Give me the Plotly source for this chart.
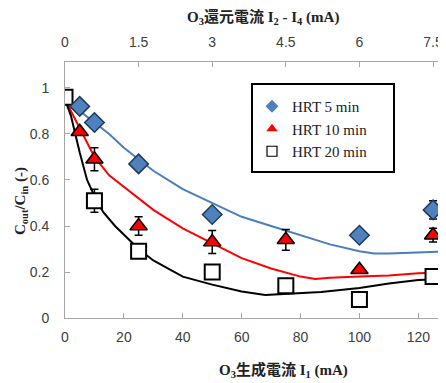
import plotly.graph_objects as go

# ---- data ----
x_hrt5 = [5, 10, 25, 50, 100, 125]
y_hrt5 = [0.92, 0.85, 0.67, 0.45, 0.36, 0.47]
e_hrt5 = [0, 0, 0, 0, 0, 0.04]

x_hrt10 = [5, 10, 25, 50, 75, 100, 125]
y_hrt10 = [0.81, 0.69, 0.40, 0.33, 0.34, 0.21, 0.36]
e_hrt10 = [0, 0.05, 0.04, 0.05, 0.045, 0, 0.03]

x_hrt20 = [0, 10, 25, 50, 75, 100, 125]
y_hrt20 = [0.96, 0.51, 0.29, 0.20, 0.14, 0.08, 0.18]
e_hrt20 = [0, 0.05, 0, 0, 0, 0, 0]

fit_x5 = [0, 2, 5, 10, 15, 20, 25, 30, 40, 50, 60, 70, 80, 90, 100, 105, 110, 120, 130]
fit_y5 = [0.95, 0.93, 0.90, 0.85, 0.80, 0.74, 0.69, 0.64, 0.56, 0.50, 0.44, 0.40, 0.36, 0.32, 0.29, 0.28, 0.28, 0.285, 0.29]

fit_x10 = [0, 2, 5, 10, 15, 20, 25, 30, 40, 50, 60, 70, 80, 85, 90, 100, 110, 120, 130]
fit_y10 = [0.95, 0.90, 0.82, 0.70, 0.62, 0.57, 0.52, 0.47, 0.39, 0.325, 0.26, 0.215, 0.18, 0.17, 0.175, 0.18, 0.185, 0.195, 0.20]

fit_x20 = [0, 2, 5, 7.5, 10, 13, 17, 21, 25, 30, 40, 50, 60, 68, 75, 87, 100, 110, 120, 130]
fit_y20 = [0.95, 0.88, 0.72, 0.60, 0.53, 0.46, 0.40, 0.35, 0.30, 0.25, 0.18, 0.145, 0.115, 0.10, 0.105, 0.113, 0.13, 0.15, 0.165, 0.17]

x_ticks = [0, 20, 40, 60, 80, 100, 120]
y_ticks = [0, 0.2, 0.4, 0.6, 0.8, 1]
y_ticktext = ["0", "0.2", "0.4", "0.6", "0.8", "1"]
top_ticks = [0, 1.5, 3, 4.5, 6, 7.5]
top_ticktext = ["0", "1.5", "3", "4.5", "6", "7.5"]

BLUE = "#4F81BD"
LINE_BLUE = "#4A7EBB"
RED = "#FF0000"

X_MAX = 129.4
Y_MAX = 1.113

fig = go.Figure()

# fitted curves
fig.add_trace(go.Scatter(x=fit_x5, y=fit_y5, mode="lines", line=dict(color=LINE_BLUE, width=2), showlegend=False, hoverinfo="skip"))
fig.add_trace(go.Scatter(x=fit_x10, y=fit_y10, mode="lines", line=dict(color=RED, width=2), showlegend=False, hoverinfo="skip"))
fig.add_trace(go.Scatter(x=fit_x20, y=fit_y20, mode="lines", line=dict(color="black", width=2), showlegend=False, hoverinfo="skip"))

err = dict(type="data", symmetric=True, color="black", thickness=1.5, width=4)

m20 = dict(symbol="square", color="white", line=dict(color="black", width=2))
m10 = dict(symbol="triangle-up", color=RED, line=dict(color="black", width=1.5))
m5 = dict(symbol="diamond", color=BLUE, line=dict(color="#1F3A5F", width=1.5))

fig.add_trace(go.Scatter(x=x_hrt20, y=y_hrt20, mode="markers", showlegend=False,
                         marker=dict(size=15, **m20), error_y=dict(array=e_hrt20, **err)))
fig.add_trace(go.Scatter(x=x_hrt10, y=y_hrt10, mode="markers", showlegend=False,
                         marker=dict(size=15, **m10), error_y=dict(array=e_hrt10, **err)))
fig.add_trace(go.Scatter(x=x_hrt5, y=y_hrt5, mode="markers", showlegend=False,
                         marker=dict(size=15, **m5), error_y=dict(array=e_hrt5, **err)))

# legend entries (smaller symbols, as in the reference legend)
legend_names = ["HRT 5 min", "HRT 10 min", "HRT 20 min"]
legend_markers = [
    dict(symbol="diamond", color=BLUE, line=dict(color=BLUE, width=0)),
    dict(symbol="triangle-up", color=RED, line=dict(color=RED, width=0)),
    dict(symbol="square-open", color="black", line=dict(color="black", width=1.2)),
]
for name, mk in zip(legend_names, legend_markers):
    fig.add_trace(go.Scatter(x=[None], y=[None], mode="markers", name=name,
                             marker=dict(size=10, **mk)))

# invisible trace to carry the top axis
fig.add_trace(go.Scatter(x=[0, 7.5], y=[None, None], xaxis="x2", mode="markers",
                         showlegend=False, hoverinfo="skip"))

axis_common = dict(
    showgrid=False, zeroline=False, showline=True, linecolor="#A6A6A6", linewidth=1,
    ticks="inside", ticklen=5, tickcolor="#A6A6A6",
    tickfont=dict(family="Liberation Sans, DejaVu Sans", size=14, color="#404040"),
)

serif = "Liberation Serif, Noto Sans CJK JP"

# the page adds an 8 px body margin; the figure is sized to fit inside the window
W, H = 438, 375
L, T, B = 57, 54, 65
PW, PH = W - L, H - T - B  # 381 x 256


def px(x):
    return (x - 8 - L) / PW


def py(y):
    return (T + PH - (y - 8)) / PH


fig.update_layout(
    width=W, height=H,
    margin=dict(l=L, r=0, t=T, b=B, pad=0),
    paper_bgcolor="white", plot_bgcolor="white",
    showlegend=True,
    legend=dict(x=px(252), y=py(90), xanchor="left", yanchor="top",
                bgcolor="rgba(0,0,0,0)", borderwidth=0,
                font=dict(family="Liberation Serif, Times New Roman, serif", size=15, color="#222"),
                itemsizing="trace", tracegroupgap=0),
    xaxis=dict(range=[0, X_MAX], tickvals=x_ticks, ticklabelstandoff=6, **axis_common),
    xaxis2=dict(range=[0, X_MAX * 7.5 / 125], overlaying="x", side="top",
                tickvals=top_ticks, ticktext=top_ticktext, ticklabelstandoff=8, **axis_common),
    yaxis=dict(range=[0, Y_MAX], tickvals=y_ticks, ticktext=y_ticktext, ticklabelstandoff=12, **axis_common),
    shapes=[dict(type="rect", xref="paper", yref="paper",
                 x0=px(252), x1=px(394), y0=py(172), y1=py(84),
                 line=dict(color="black", width=2), fillcolor="rgba(0,0,0,0)", layer="above")],
    annotations=[
        dict(text="<b>O<sub>3</sub>還元電流 I<sub>2</sub> - I<sub>4</sub> (mA)</b>",
             xref="paper", yref="paper", x=px(263), y=py(18),
             xanchor="center", yanchor="middle", showarrow=False,
             font=dict(family=serif, size=15, color="#222")),
        dict(text="<b>O<sub>3</sub>生成電流 I<sub>1</sub> (mA)</b>",
             xref="paper", yref="paper", x=px(283), y=py(370),
             xanchor="center", yanchor="middle", showarrow=False,
             font=dict(family=serif, size=15, color="#222")),
        dict(text="<b>C<sub>out</sub>/C<sub>in</sub> (-)</b>",
             xref="paper", yref="paper", x=px(21), y=py(201),
             xanchor="center", yanchor="middle", showarrow=False, textangle=-90,
             font=dict(family=serif, size=15, color="#222")),
    ],
)

fig.write_html("out.html")
